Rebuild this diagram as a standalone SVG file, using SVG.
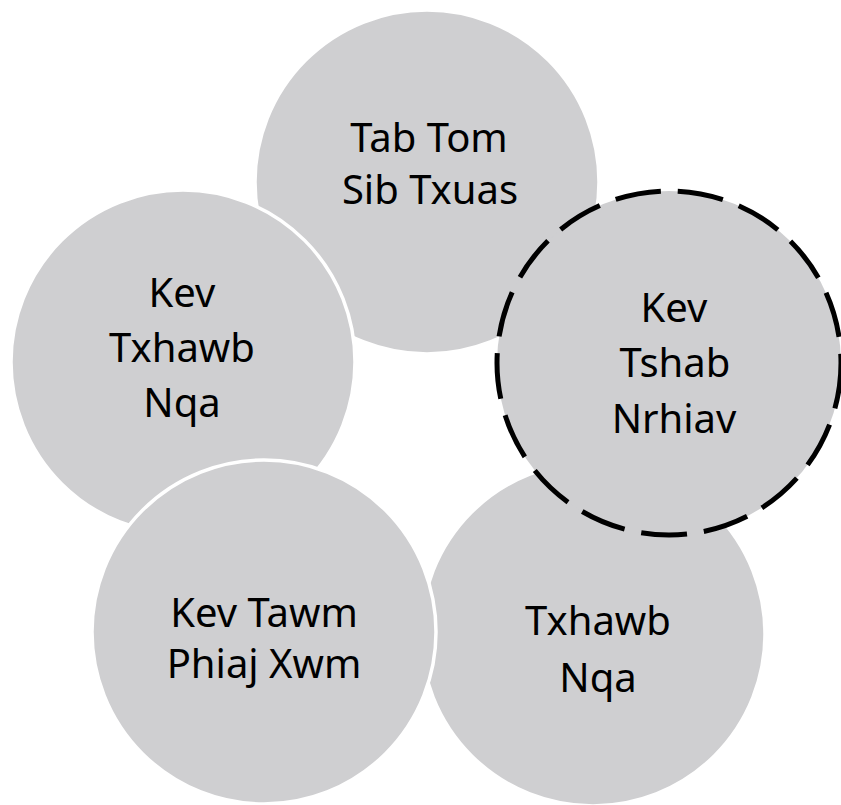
<svg xmlns="http://www.w3.org/2000/svg" width="841" height="805" viewBox="0 0 841 805">
  <style>
    .node { fill: #cfcfd1; stroke: #ffffff; stroke-width: 3.5; }
    .dashed { fill: #cfcfd1; stroke: #000000; stroke-width: 5; stroke-dasharray: 46 17; }
    .label { font-family: "Noto Sans", "DejaVu Sans", sans-serif; font-size: 40px; fill: #000000; text-anchor: middle; }
  </style>
  <rect x="0" y="0" width="841" height="805" fill="#ffffff"/>
  <g id="node-tab-tom">
    <circle class="node" cx="427" cy="182" r="172"/>
    <text class="label" x="429" y="152">Tab Tom</text>
    <text class="label" x="430" y="204">Sib Txuas</text>
  </g>
  <g id="node-txhawb-nqa">
    <circle class="node" cx="593" cy="634" r="172"/>
    <text class="label" x="598" y="635">Txhawb</text>
    <text class="label" x="598" y="692">Nqa</text>
  </g>
  <g id="node-kev-txhawb-nqa">
    <circle class="node" cx="183" cy="362" r="172"/>
    <text class="label" x="182" y="307">Kev</text>
    <text class="label" x="182" y="362">Txhawb</text>
    <text class="label" x="182" y="417">Nqa</text>
  </g>
  <g id="node-kev-tawm">
    <circle class="node" cx="264" cy="632" r="172"/>
    <text class="label" x="264" y="627">Kev Tawm</text>
    <text class="label" x="264" y="678">Phiaj Xwm</text>
  </g>
  <g id="node-kev-tshab">
    <circle class="dashed" cx="669" cy="363" r="172"/>
    <text class="label" x="674" y="322">Kev</text>
    <text class="label" x="675" y="377">Tshab</text>
    <text class="label" x="674" y="433">Nrhiav</text>
  </g>
  <g id="connectors"/>
</svg>
